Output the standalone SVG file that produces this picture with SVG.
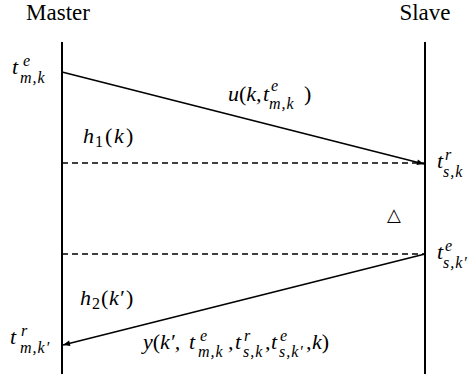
<svg xmlns="http://www.w3.org/2000/svg" width="469" height="378" viewBox="0 0 469 378">
<style>
text{font-family:'Liberation Serif','Times New Roman','DejaVu Serif',serif;fill:#000}
.hd{font-size:23px}
.m{font-style:italic;font-size:22px}
.s{font-size:16px;letter-spacing:1px}
.u{font-style:normal}
.life{stroke:#000;stroke-width:2;fill:none}
.msg{stroke:#000;stroke-width:1.6;fill:none}
.dash{stroke:#000;stroke-width:1.5;stroke-dasharray:6 4;fill:none}
</style>
<defs>
<marker id="ah" viewBox="0 0 10 10" refX="10" refY="5" markerWidth="8" markerHeight="7" markerUnits="userSpaceOnUse" orient="auto">
<path d="M0,1 L10,5 L0,9 Z" fill="#000"/>
</marker>
</defs>
<g id="master">
<text class="hd" x="58" y="20" text-anchor="middle">Master</text>
<line class="life" x1="62" y1="42" x2="62" y2="374"/>
</g>
<g id="slave">
<text class="hd" x="425" y="20" text-anchor="middle">Slave</text>
<line class="life" x1="425" y1="42" x2="425" y2="374"/>
</g>
<g id="connectors">
<line class="msg" x1="62" y1="72" x2="424" y2="164" marker-end="url(#ah)"/>
<line class="msg" x1="425" y1="254" x2="63" y2="345" marker-end="url(#ah)"/>
<line class="dash" x1="62" y1="163" x2="425" y2="163"/>
<line class="dash" x1="62" y1="254" x2="425" y2="254"/>
</g>
<g id="labels">
<text class="m"><tspan x="12" y="74">t</tspan><tspan class="s" x="23" y="66">e</tspan><tspan class="s" x="20" y="83">m,k</tspan></text>

<text class="m"><tspan x="228" y="101">u<tspan class="u">(</tspan>k,</tspan><tspan x="263" y="101">t</tspan><tspan class="s" x="271" y="91">e</tspan><tspan class="s" x="269" y="109">m,k</tspan><tspan class="u" x="304" y="101">)</tspan></text>

<text class="m"><tspan x="83" y="143">h</tspan><tspan class="s u" x="95" y="147">1</tspan><tspan class="u" x="105" y="143">(</tspan><tspan x="114" y="143">k</tspan><tspan class="u" x="126" y="143">)</tspan></text>

<text class="m"><tspan x="437" y="168">t</tspan><tspan class="s" x="445" y="160">r</tspan><tspan class="s" x="443" y="177">s,k</tspan></text>

<text x="394" y="221" style="font-family:'DejaVu Sans',sans-serif;font-size:18px" text-anchor="middle">△</text>

<text class="m"><tspan x="437" y="259">t</tspan><tspan class="s" x="445" y="251">e</tspan><tspan class="s" x="443" y="268">s,k′</tspan></text>

<text class="m"><tspan x="80" y="305">h</tspan><tspan class="s u" x="92" y="309">2</tspan><tspan class="u" x="101" y="305">(</tspan><tspan x="109" y="305">k′</tspan><tspan class="u" x="126" y="305">)</tspan></text>

<text class="m"><tspan x="10" y="344">t</tspan><tspan class="s" x="21" y="336">r</tspan><tspan class="s" x="20" y="353">m,k′</tspan></text>

<text class="m"><tspan x="143" y="349">y<tspan class="u">(</tspan>k′,</tspan><tspan x="189" y="349">t</tspan><tspan class="s" x="200" y="341">e</tspan><tspan class="s" x="198" y="357">m,k</tspan><tspan x="228" y="349">,</tspan><tspan x="235" y="349">t</tspan><tspan class="s" x="244" y="341">r</tspan><tspan class="s" x="243" y="357">s,k</tspan><tspan x="265" y="349">,</tspan><tspan x="271" y="349">t</tspan><tspan class="s" x="280" y="341">e</tspan><tspan class="s" x="279" y="357">s,k′</tspan><tspan x="306" y="349">,</tspan><tspan x="312" y="349">k<tspan class="u">)</tspan></tspan></text>
</g>
</svg>
